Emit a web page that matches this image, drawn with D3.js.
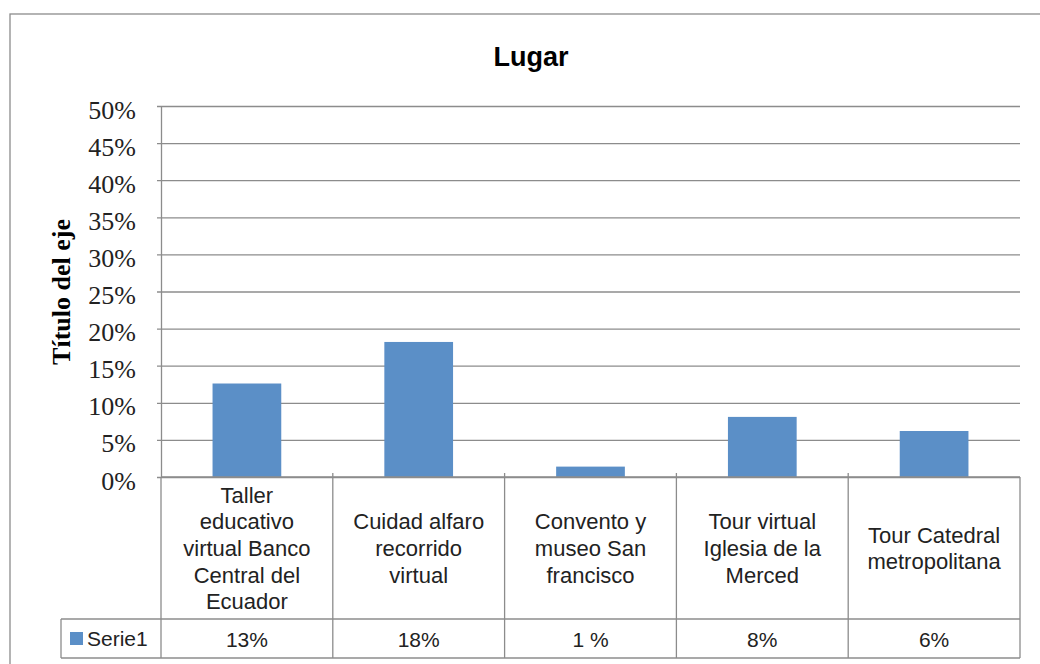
<!DOCTYPE html>
<html>
<head>
<meta charset="utf-8">
<script src="https://cdn.jsdelivr.net/npm/d3@7"></script>
<style>
  body { margin: 0; background: #fff; }
  svg { display: block; }
</style>
</head>
<body>
<script>
// data
var categories = [
  ["Taller", "educativo", "virtual Banco", "Central del", "Ecuador"],
  ["Cuidad alfaro", "recorrido", "virtual"],
  ["Convento y", "museo San", "francisco"],
  ["Tour virtual", "Iglesia de la", "Merced"],
  ["Tour Catedral", "metropolitana"]
];
var values = [0.126, 0.182, 0.014, 0.081, 0.062];
var valueLabels = ["13%", "18%", "1 %", "8%", "6%"];
var yTicks = [0, 0.05, 0.10, 0.15, 0.20, 0.25, 0.30, 0.35, 0.40, 0.45, 0.50];
var seriesName = "Serie1";

var W = 1040, H = 664;
var plot = {left: 161, right: 1020, top: 106, bottom: 477};
var tableRow1 = 619, tableRow2 = 658, legendLeft = 61;
var lineColor = "#8c8c8c", barColor = "#5b8fc7";

var svg = d3.select("body").append("svg")
    .attr("width", W)
    .attr("height", H);

// outer frame (runs off the right/bottom edge)
svg.append("rect")
    .attr("x", 10).attr("y", 14)
    .attr("width", 1100).attr("height", 700)
    .attr("fill", "none")
    .attr("stroke", lineColor)
    .attr("stroke-width", 1.3);

var x = d3.scaleBand()
    .domain(d3.range(categories.length))
    .range([plot.left, plot.right])
    .padding(0);

var y = d3.scaleLinear()
    .domain([0, 0.5])
    .range([plot.bottom, plot.top]);

// title
svg.append("text")
    .attr("x", 531).attr("y", 66)
    .attr("text-anchor", "middle")
    .style("font-family", "Liberation Sans, Arial, sans-serif")
    .style("font-weight", "bold")
    .style("font-size", "27px")
    .text("Lugar");

// y axis + gridlines
var yAxis = svg.append("g")
    .attr("transform", "translate(" + plot.left + ",0)")
    .call(d3.axisLeft(y)
        .tickValues(yTicks)
        .tickFormat(d3.format(".0%"))
        .tickSizeInner(-(plot.right - plot.left))
        .tickSizeOuter(0)
        .tickPadding(25));

yAxis.select(".domain").attr("stroke", lineColor).attr("stroke-width", 1.3);
yAxis.selectAll(".tick line")
    .attr("stroke", lineColor)
    .attr("stroke-width", 1.3)
    .attr("x1", -4);
yAxis.selectAll(".tick text")
    .attr("dy", "12px")
    .attr("fill", "#222")
    .style("font-family", "Liberation Serif, Times New Roman, serif")
    .style("font-size", "26px");

// y axis title
svg.append("text")
    .attr("transform", "translate(70,292) rotate(-90)")
    .attr("text-anchor", "middle")
    .style("font-family", "Liberation Serif, Times New Roman, serif")
    .style("font-weight", "bold")
    .style("font-size", "26px")
    .text("Título del eje");

// bars
var barW = x.bandwidth() * 0.4;
svg.append("g").selectAll("rect")
    .data(values)
    .enter().append("rect")
    .attr("x", function (d, i) { return x(i) + (x.bandwidth() - barW) / 2; })
    .attr("y", function (d) { return y(d); })
    .attr("width", barW)
    .attr("height", function (d) { return y(0) - y(d); })
    .attr("fill", barColor);

// data table
var table = svg.append("g")
    .attr("stroke", lineColor)
    .attr("stroke-width", 1.3)
    .attr("fill", "none");

table.append("line").attr("x1", plot.left).attr("x2", plot.right).attr("y1", plot.bottom).attr("y2", plot.bottom);
table.append("line").attr("x1", legendLeft).attr("x2", plot.right).attr("y1", tableRow1).attr("y2", tableRow1);
table.append("line").attr("x1", legendLeft).attr("x2", plot.right).attr("y1", tableRow2).attr("y2", tableRow2);
table.append("line").attr("x1", legendLeft).attr("x2", legendLeft).attr("y1", tableRow1).attr("y2", tableRow2);
table.selectAll("line.col")
    .data(d3.range(categories.length + 1))
    .enter().append("line")
    .attr("class", "col")
    .attr("x1", function (d) { return d < categories.length ? x(d) : plot.right; })
    .attr("x2", function (d) { return d < categories.length ? x(d) : plot.right; })
    .attr("y1", function (d) { return d === 0 || d === categories.length ? plot.bottom : plot.bottom - 4; })
    .attr("y2", tableRow2);

var sans = "Liberation Sans, Arial, sans-serif";
var lineH = 26.7;
var cellMid = (plot.bottom + tableRow1) / 2;

// category labels
svg.append("g").selectAll("text")
    .data(categories)
    .enter().append("text")
    .attr("text-anchor", "middle")
    .attr("fill", "#222")
    .style("font-family", sans)
    .style("font-size", "22px")
    .each(function (lines, i) {
        var t = d3.select(this);
        var first = cellMid - (lines.length - 1) * lineH / 2 + 8;
        lines.forEach(function (l, k) {
            t.append("tspan")
                .attr("x", x(i) + x.bandwidth() / 2)
                .attr("y", first + k * lineH)
                .text(l);
        });
    });

// value row
svg.append("g").selectAll("text")
    .data(valueLabels)
    .enter().append("text")
    .attr("x", function (d, i) { return x(i) + x.bandwidth() / 2; })
    .attr("y", 647)
    .attr("text-anchor", "middle")
    .attr("fill", "#222")
    .style("font-family", sans)
    .style("font-size", "21px")
    .text(function (d) { return d; });

// legend key
svg.append("rect")
    .attr("x", 70).attr("y", 632)
    .attr("width", 13).attr("height", 13)
    .attr("fill", barColor);
svg.append("text")
    .attr("x", 87).attr("y", 646)
    .attr("fill", "#222")
    .style("font-family", sans)
    .style("font-size", "21px")
    .text(seriesName);
</script>
</body>
</html>
